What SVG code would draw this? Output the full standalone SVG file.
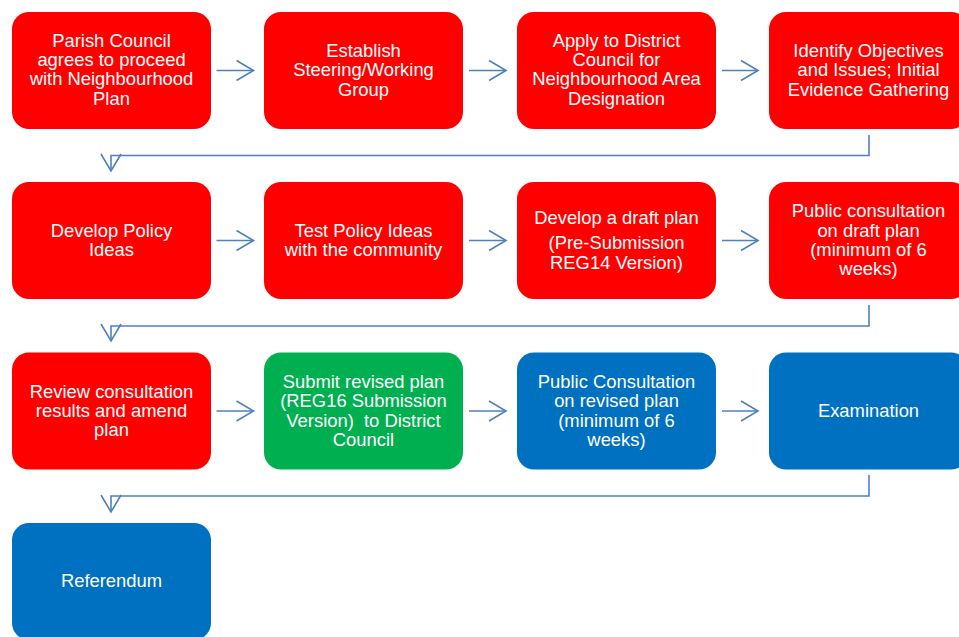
<svg xmlns="http://www.w3.org/2000/svg" width="959" height="637" viewBox="0 0 959 637">
<style>
.box{stroke:none}
.red{fill:#FF0000}
.green{fill:#00B050}
.blue{fill:#0070C0}
text{font-family:"Liberation Sans",Arial,sans-serif;font-size:18.4px;fill:#FFFFFF;text-anchor:middle;white-space:pre}
.conn{fill:none;stroke:#4F81BD;stroke-width:1.6}
</style>
<defs>
<marker id="arr" markerUnits="userSpaceOnUse" markerWidth="22" markerHeight="24" viewBox="0 0 22 24" refX="19" refY="12" orient="auto">
<path d="M2,2 L19,12 L2,22" fill="none" stroke="#4F81BD" stroke-width="1.6"/>
</marker>
</defs>
<rect width="959" height="637" fill="#FFFFFF"/>
<g id="connectors">
<line class="conn" x1="216.5" y1="70.5" x2="253.5" y2="70.5" marker-end="url(#arr)"/>
<line class="conn" x1="469" y1="70.5" x2="506" y2="70.5" marker-end="url(#arr)"/>
<line class="conn" x1="722" y1="70.5" x2="758" y2="70.5" marker-end="url(#arr)"/>
<path class="conn" d="M869,135 V155.5 H111 V171" marker-end="url(#arr)"/>
<line class="conn" x1="216.5" y1="240.5" x2="253.5" y2="240.5" marker-end="url(#arr)"/>
<line class="conn" x1="469" y1="240.5" x2="506" y2="240.5" marker-end="url(#arr)"/>
<line class="conn" x1="722" y1="240.5" x2="758" y2="240.5" marker-end="url(#arr)"/>
<path class="conn" d="M869,305 V326 H111 V341" marker-end="url(#arr)"/>
<line class="conn" x1="216.5" y1="411" x2="253.5" y2="411" marker-end="url(#arr)"/>
<line class="conn" x1="469" y1="411" x2="506" y2="411" marker-end="url(#arr)"/>
<line class="conn" x1="722" y1="411" x2="758" y2="411" marker-end="url(#arr)"/>
<path class="conn" d="M869,475 V496 H111 V512" marker-end="url(#arr)"/>
</g>
<g id="n1"><rect class="box red" x="12" y="12" width="199" height="117" rx="17"/>
<text x="111.5" y="46.5">Parish Council</text><text x="111.5" y="65.9">agrees to proceed</text><text x="111.5" y="85.3">with Neighbourhood</text><text x="111.5" y="104.7">Plan</text></g>
<g id="n2"><rect class="box red" x="264" y="12" width="199" height="117" rx="17"/>
<text x="363.5" y="56.8">Establish</text><text x="363.5" y="76.2">Steering/Working</text><text x="363.5" y="95.6">Group</text></g>
<g id="n3"><rect class="box red" x="517" y="12" width="199" height="117" rx="17"/>
<text x="616.5" y="46.5">Apply to District</text><text x="616.5" y="65.9">Council for</text><text x="616.5" y="85.3">Neighbourhood Area</text><text x="616.5" y="104.7">Designation</text></g>
<g id="n4"><rect class="box red" x="769" y="12" width="199" height="117" rx="17"/>
<text x="868.5" y="56.8">Identify Objectives</text><text x="868.5" y="76.2">and Issues; Initial</text><text x="868.5" y="95.6">Evidence Gathering</text></g>
<g id="n5"><rect class="box red" x="12" y="182" width="199" height="117" rx="17"/>
<text x="111.5" y="236.5">Develop Policy</text><text x="111.5" y="255.9">Ideas</text></g>
<g id="n6"><rect class="box red" x="264" y="182" width="199" height="117" rx="17"/>
<text x="363.5" y="236.5">Test Policy Ideas</text><text x="363.5" y="255.9">with the community</text></g>
<g id="n7"><rect class="box red" x="517" y="182" width="199" height="117" rx="17"/>
<text x="616.5" y="224">Develop a draft plan</text><text x="616.5" y="249.3">(Pre-Submission</text><text x="616.5" y="269.3">REG14 Version)</text></g>
<g id="n8"><rect class="box red" x="769" y="182" width="199" height="117" rx="17"/>
<text x="868.5" y="217.1">Public consultation</text><text x="868.5" y="236.5">on draft plan</text><text x="868.5" y="255.9">(minimum of 6</text><text x="868.5" y="275.3">weeks)</text></g>
<g id="n9"><rect class="box red" x="12" y="352.5" width="199" height="117" rx="17"/>
<text x="111.5" y="398">Review consultation</text><text x="111.5" y="417.2">results and amend</text><text x="111.5" y="436.4">plan</text></g>
<g id="n10"><rect class="box green" x="264" y="352.5" width="199" height="117" rx="17"/>
<text x="363.5" y="387.9">Submit revised plan</text><text x="363.5" y="407.3">(REG16 Submission</text><text x="363.5" y="426.7">Version)  to District</text><text x="363.5" y="446.1">Council</text></g>
<g id="n11"><rect class="box blue" x="517" y="352.5" width="199" height="117" rx="17"/>
<text x="616.5" y="387.9">Public Consultation</text><text x="616.5" y="407.3">on revised plan</text><text x="616.5" y="426.7">(minimum of 6</text><text x="616.5" y="446.1">weeks)</text></g>
<g id="n12"><rect class="box blue" x="769" y="352.5" width="199" height="117" rx="17"/>
<text x="868.5" y="416.8">Examination</text></g>
<g id="n13"><rect class="box blue" x="12" y="523" width="199" height="117" rx="17"/>
<text x="111.5" y="587.3">Referendum</text></g>
</svg>
